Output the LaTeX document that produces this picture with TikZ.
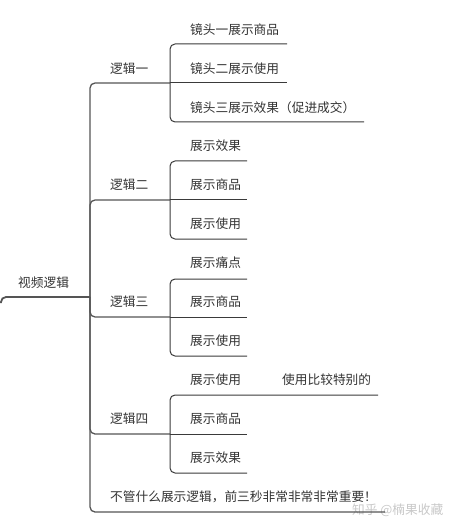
\documentclass[tikz,border=0pt]{standalone}
\usepackage{fontspec}
\newfontfamily\cjk{Noto Sans CJK SC}
\definecolor{textgray}{HTML}{333333}
\definecolor{linegray}{HTML}{3A3A3A}
\definecolor{trunkgray}{HTML}{555555}
\definecolor{wmgray}{HTML}{C8C8C8}
\begin{document}
\begin{tikzpicture}[x=1pt,y=-1pt,
  font=\cjk\fontsize{12.7}{14}\selectfont,
  txt/.style={anchor=west, inner sep=0pt, text=textgray},
  ln/.style={draw=linegray, line width=1pt},
  br/.style={ln, rounded corners=5pt},
  trunk/.style={draw=trunkgray, line width=1.3pt, rounded corners=5pt}]
\useasboundingbox (0,0) rectangle (468,529);

% texts
\node[txt] (root) at (18,283) {视频逻辑};
\node[txt] (l1) at (110,69) {逻辑一};
\node[txt] (a1) at (190,30) {镜头一展示商品};
\node[txt] (a2) at (190,69) {镜头二展示使用};
\node[txt] (a3) at (190,108) {镜头三展示效果（促进成交）};
\node[txt] (l2) at (110,185) {逻辑二};
\node[txt] (b1) at (190,146) {展示效果};
\node[txt] (b2) at (190,185) {展示商品};
\node[txt] (b3) at (190,224) {展示使用};
\node[txt] (l3) at (110,302) {逻辑三};
\node[txt] (c1) at (190,263) {展示痛点};
\node[txt] (c2) at (190,302) {展示商品};
\node[txt] (c3) at (190,341) {展示使用};
\node[txt] (l4) at (110,419) {逻辑四};
\node[txt] (d1) at (190,380) {展示使用};
\node[txt] (note) at (282,380) {使用比较特别的};
\node[txt] (d2) at (190,419) {展示商品};
\node[txt] (d3) at (190,458) {展示效果};
\node[txt] (fin) at (110,497) {不管什么展示逻辑，前三秒非常非常非常重要！};
\node[anchor=west, inner sep=0pt, text=wmgray] (wm) at (352,510) {知乎 @楠果收藏};

% junctions
\coordinate (r0) at (1,303);
\coordinate (j0) at (90,297);
\coordinate (j1) at (170,83);
\coordinate (j2) at (170,200);
\coordinate (j3) at (170,317);
\coordinate (j4) at (170,434);
\coordinate (jf) at (90,512);

% root
\draw[trunk, line width=1.8pt] (r0) |- (j0);
% trunk branches
\draw[trunk] (j0) |- (j1);
\draw[trunk] (j0) |- (j2);
\draw[trunk] (j0) |- (j3);
\draw[trunk] (j0) |- (j4);
\draw[trunk] (j0) -- (jf) -- (385,512);

% logic 1
\draw[ln] (j1) -- (287,83);
\draw[br] (j1) |- (287,44);
\draw[br] (j1) |- (364,122);
% logic 2
\draw[ln] (j2) -- (247,200);
\draw[br] (j2) |- (247,161);
\draw[br] (j2) |- (247,239);
% logic 3
\draw[ln] (j3) -- (247,317);
\draw[br] (j3) |- (247,279);
\draw[br] (j3) |- (247,356);
% logic 4
\draw[ln] (j4) -- (247,434);
\draw[br] (j4) |- (378,395);
\draw[br] (j4) |- (247,473);
\end{tikzpicture}
\end{document}
